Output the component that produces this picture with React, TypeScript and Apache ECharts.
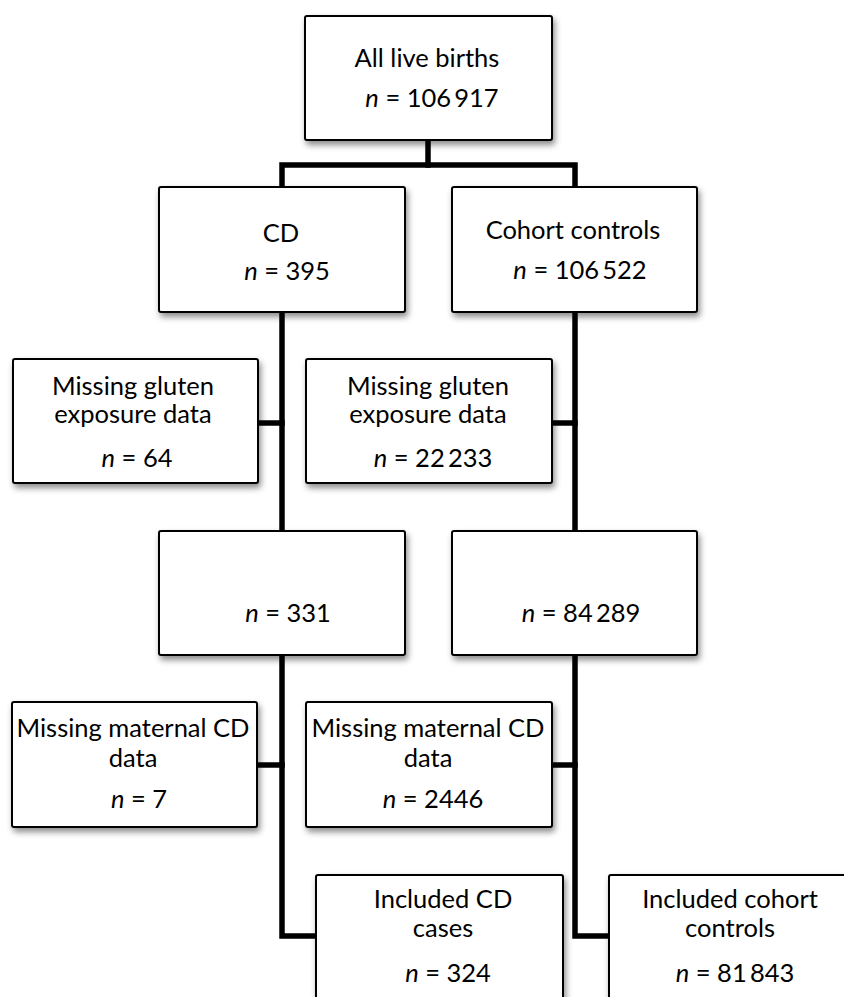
import React, { useEffect, useRef } from "react";
import * as echarts from "echarts";

// ---- data ----
const boxTitles: string[][] = [
  ["All live births"],
  ["CD"],
  ["Cohort controls"],
  ["Missing gluten", "exposure data"],
  ["Missing gluten", "exposure data"],
  [],
  [],
  ["Missing maternal CD", "data"],
  ["Missing maternal CD", "data"],
  ["Included CD", "cases"],
  ["Included cohort", "controls"],
];
const boxCounts: string[] = [
  "106\u2009917",
  "395",
  "106\u2009522",
  "64",
  "22\u2009233",
  "331",
  "84\u2009289",
  "7",
  "2446",
  "324",
  "81\u2009843",
];

// ---- layout (positions / sizes only) ----
// [x, y, w, h]
const boxRects: number[][] = [
  [305, 16, 247, 124],
  [159, 187, 246, 125],
  [452, 187, 245, 125],
  [13, 359, 245, 124],
  [306, 359, 246, 124],
  [159, 531, 246, 124],
  [452, 531, 245, 124],
  [12, 702, 245, 125],
  [306, 702, 246, 125],
  [316, 875, 247, 135],
  [609, 875, 250, 135],
];
const titleYs: number[][] = [
  [57], [232], [229], [385, 413], [385, 413], [], [], [727, 757], [727, 757], [898, 927], [898, 927],
];
const titleXs: number[] = [427, 281, 573, 133, 428, 0, 0, 133, 428, 443, 730];
const countYs: number[] = [97, 270, 269, 457, 457, 612, 612, 798, 798, 972, 972];
const countXs: number[] = [432, 287, 580, 137, 433, 288, 581, 139, 433, 448, 735];

const connectors: number[][][] = [
  [[428, 140], [428, 165]],
  [[282, 187], [282, 165], [575, 165], [575, 187]],
  [[282, 312], [282, 531]],
  [[575, 312], [575, 531]],
  [[258, 423], [282, 423]],
  [[552, 423], [575, 423]],
  [[282, 655], [282, 936], [316, 936]],
  [[575, 655], [575, 936], [609, 936]],
  [[257, 765], [282, 765]],
  [[552, 765], [575, 765]],
];

const FONT = "Lato, 'Open Sans', sans-serif";
const FS = 25.5;
const LH = 26;

export default function App() {
  const ref = useRef<HTMLDivElement>(null);
  useEffect(() => {
    document.body.style.margin = "0";
    const chart = echarts.init(ref.current!, null, { renderer: "svg" });
    const elements: any[] = [];
    connectors.forEach((pts) => {
      elements.push({
        type: "polyline",
        shape: { points: pts },
        style: { stroke: "#000", lineWidth: 5.5, fill: null, lineJoin: "miter", lineCap: "square" },
        z: 1,
      });
    });
    boxRects.forEach((r, i) => {
      elements.push({
        type: "rect",
        shape: { x: r[0], y: r[1], width: r[2], height: r[3], r: 2 },
        style: {
          fill: "#fff",
          stroke: "#000",
          lineWidth: 2,
          shadowBlur: 6,
          shadowOffsetX: 2,
          shadowOffsetY: 4,
          shadowColor: "rgba(0,0,0,0.45)",
        },
        z: 2,
      });
      boxTitles[i].forEach((t, j) => {
        elements.push({
          type: "text",
          x: titleXs[i],
          y: titleYs[i][j],
          style: {
            text: t,
            fontFamily: FONT,
            fontSize: FS,
            lineHeight: LH,
            fill: "#000",
            align: "center",
            verticalAlign: "middle",
          },
          z: 3,
        });
      });
      elements.push({
        type: "text",
        x: countXs[i],
        y: countYs[i],
        style: {
          text: "{i|n} = " + boxCounts[i],
          fontFamily: FONT,
          fontSize: FS,
          lineHeight: LH,
          fill: "#000",
          align: "center",
          verticalAlign: "middle",
          rich: {
            i: { fontStyle: "italic", fontFamily: FONT, fontSize: FS, lineHeight: LH, fill: "#000" },
          },
        },
        z: 3,
      });
    });
    chart.setOption({
      animation: false,
      backgroundColor: "#fff",
      graphic: { elements },
    });
    return () => chart.dispose();
  }, []);
  return <div ref={ref} style={{ width: 844, height: 997 }} />;
}
